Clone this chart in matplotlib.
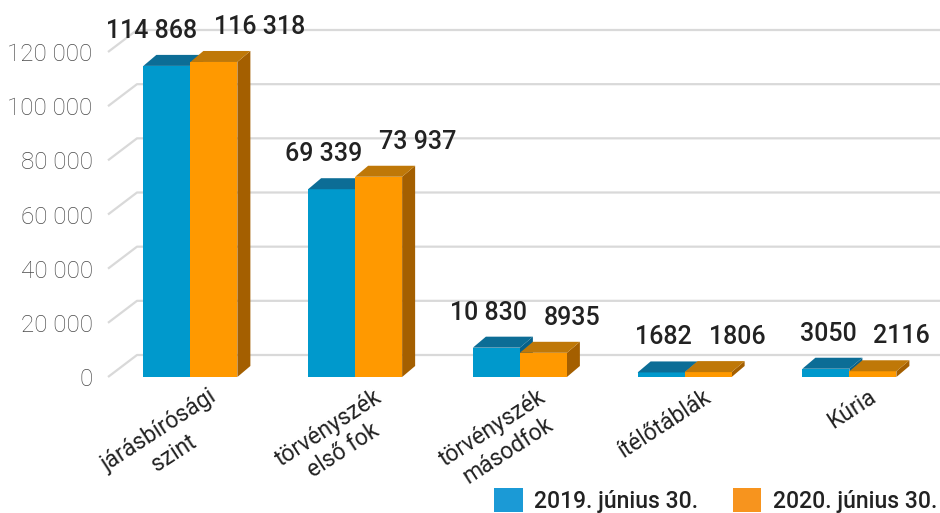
import numpy as np
import matplotlib
matplotlib.use("Agg")
import matplotlib.pyplot as plt
from matplotlib.patches import Polygon, Patch

# data
categories = ["járásbírósági\nszint", "törvényszék\nelső fok", "törvényszék\nmásodfok",
              "ítélőtáblák", "Kúria"]
vals_2019 = [114868, 69339, 10830, 1682, 3050]
vals_2020 = [116318, 73937, 8935, 1806, 2116]
labels_2019 = ["114 868", "69 339", "10 830", "1682", "3050"]
labels_2020 = ["116 318", "73 937", "8935", "1806", "2116"]
series_names = ["2019. június 30.", "2020. június 30."]
yticks = [0, 20000, 40000, 60000, 80000, 100000, 120000]
ytick_labels = ["0", "20 000", "40 000", "60 000", "80 000", "100 000", "120 000"]

W, H = 940, 513
fig = plt.figure(figsize=(W / 100, H / 100), dpi=100)
# axes = front plane of the fake 3D chart
ax = fig.add_axes([108 / W, 136 / H, 832 / W, 325 / H])
ax.set_xlim(-0.5, 4.55)
ax.set_ylim(0, 120000)
for s in ax.spines.values():
    s.set_visible(False)
ax.set_xticks([])

# pixel -> data helpers
px_x = 5.05 / 832
px_y = 120000 / 325

bar_w = 47 * px_x
bdx, bdy = 13 * px_x, 11 * px_y      # bar depth
fdx, fdy = 29 * px_x, 22 * px_y      # floor / wall depth

# gridlines: short diagonal on the floor side, then along the back wall
grid_c = "#d9d9d9"
for v in yticks:
    ax.plot([-0.5, -0.5 + fdx, 4.55], [v, v + fdy, v + fdy], color=grid_c,
            lw=1.6, zorder=1, clip_on=False, solid_capstyle="butt")

ax.set_yticks(yticks)
ax.set_yticklabels(ytick_labels)
ax.tick_params(axis="y", length=0, pad=11, labelsize=17.5, labelcolor="#4a4a4a")
for t in ax.get_yticklabels():
    t.set_fontfamily(["Roboto", "DejaVu Sans"])
    t.set_fontweight("light")


def bar3d(x0, h, front, top, side, z):
    x1 = x0 + bar_w
    ax.add_patch(Polygon([(x1, 0), (x1 + bdx, bdy), (x1 + bdx, h + bdy), (x1, h)],
                         closed=True, fc=side, ec="none", zorder=z, clip_on=False))
    ax.add_patch(Polygon([(x0, 0), (x1, 0), (x1, h), (x0, h)],
                         closed=True, fc=front, ec="none", zorder=z + 0.1, clip_on=False))
    ax.add_patch(Polygon([(x0, h), (x1, h), (x1 + bdx, h + bdy), (x0 + bdx, h + bdy)],
                         closed=True, fc=top, ec="none", zorder=z + 0.2, clip_on=False))


lab_font = ["Roboto", "DejaVu Sans"]
for i in range(len(categories)):
    bar3d(i - bar_w, vals_2019[i], "#0099cc", "#0c6d96", "#07618a", 3)
    bar3d(i, vals_2020[i], "#ff9900", "#bf7808", "#a45f00", 4)
    # 2019 label ends just right of the blue bar, 2020 label starts inside the orange one
    ax.annotate(labels_2019[i], xy=(i, vals_2019[i]), xytext=(7, 35),
                textcoords="offset pixels", ha="right", va="center", fontsize=18,
                fontweight="medium", color="#222222", family=lab_font, zorder=6,
                annotation_clip=False)
    ax.annotate(labels_2020[i], xy=(i, vals_2020[i]), xytext=(24, 35),
                textcoords="offset pixels", ha="left", va="center", fontsize=18,
                fontweight="medium", color="#222222", family=lab_font, zorder=6,
                annotation_clip=False)
    ax.annotate(categories[i], xy=(i, 0), xycoords=("data", "axes fraction"),
                xytext=(18, -8), textcoords="offset pixels", ha="right", va="top",
                rotation=33, rotation_mode="anchor", multialignment="center",
                fontsize=16.5, color="#222222", family=lab_font, annotation_clip=False)

handles = [Patch(fc="#1b9ad6", ec="none"), Patch(fc="#f7941e", ec="none")]
fig.legend(handles, series_names, loc="center right", bbox_to_anchor=(0.997, 0.025),
           ncol=2, frameon=False, prop={"family": lab_font, "size": 16.5, "weight": "medium"},
           handlelength=1.25, handleheight=1.25, handletextpad=0.5, columnspacing=1.5,
           borderpad=0, borderaxespad=0, labelcolor="#222222")

fig.savefig("out.png", dpi=100)
